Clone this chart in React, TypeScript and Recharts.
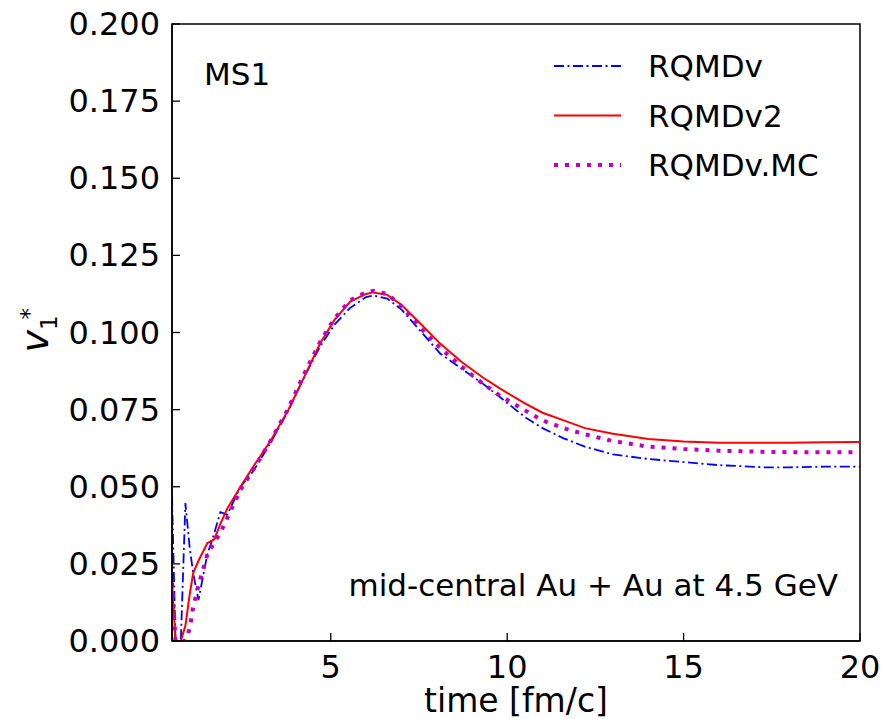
import React from "react";
import {
  LineChart,
  Line,
  XAxis,
  YAxis,
  Legend,
  ReferenceArea,
} from "recharts";

// time grid [fm/c]
const times = [
  0.5, 0.6, 0.75, 0.88, 1.0, 1.1, 1.25, 1.5, 1.7, 1.87, 2.07, 2.44, 2.8, 3.3,
  3.8, 4.2, 4.7, 5.1, 5.55, 6.0, 6.2, 6.6, 7.0, 7.5, 8.1, 8.7, 9.3, 9.8, 10.5,
  11.0, 11.6, 12.2, 13.0, 14.0, 15.0, 16.0, 17.3, 18.0, 19.0, 20.0,
];

const rqmdv = [
  0.047, 0.0, 0.0, 0.0447, 0.0304, 0.022, 0.0133, 0.028, 0.035, 0.0418, 0.041,
  0.05, 0.055, 0.0644, 0.0747, 0.0845, 0.0955, 0.1025, 0.108, 0.1115, 0.112,
  0.111, 0.1075, 0.101, 0.0932, 0.0883, 0.0835, 0.079, 0.0726, 0.069, 0.0657,
  0.063, 0.0605, 0.059, 0.058, 0.057, 0.0563, 0.0563, 0.0565, 0.0565,
];

const rqmdv2 = [
  0.0197, 0.0, 0.0, 0.005, 0.015, 0.022, 0.026, 0.0317, 0.033, 0.038, 0.043,
  0.05, 0.0565, 0.065, 0.075, 0.0845, 0.0965, 0.104, 0.11, 0.1125, 0.113,
  0.1122, 0.109, 0.1033, 0.0964, 0.0905, 0.0855, 0.0818, 0.077, 0.074, 0.0715,
  0.069, 0.0672, 0.0655, 0.0647, 0.0643, 0.0643, 0.0643, 0.0644, 0.0645,
];

const rqmdvMC = [
  0.019, 0.0, 0.0, 0.0, 0.004, 0.011, 0.018, 0.028, 0.032, 0.035, 0.04, 0.049,
  0.0555, 0.065, 0.0755, 0.0855, 0.097, 0.1045, 0.1105, 0.113, 0.1135, 0.1125,
  0.1085, 0.102, 0.095, 0.089, 0.0835, 0.0795, 0.0748, 0.0715, 0.069, 0.067,
  0.0648, 0.063, 0.0622, 0.0617, 0.0613, 0.0612, 0.0612, 0.0612,
];

const xTicks = [5, 10, 15, 20];
const yTicks = [0, 0.025, 0.05, 0.075, 0.1, 0.125, 0.15, 0.175, 0.2];

const series = [
  { key: "a", name: "RQMDv", color: "#0000ff", width: 1.8, dash: "10 3.5 2 3.5" },
  { key: "b", name: "RQMDv2", color: "#ff0000", width: 2, dash: undefined },
  { key: "c", name: "RQMDv.MC", color: "#bf00bf", width: 4, dash: "4 7" },
];

const data = times.map((t, i) => ({
  t,
  a: rqmdv[i],
  b: rqmdv2[i],
  c: rqmdvMC[i],
}));

const FONT = "DejaVu Sans";

const XTick = ({ x, y, payload }: any) => (
  <g>
    <line x1={x} x2={x} y1={y} y2={y - 8} stroke="#000" strokeWidth={1.3} />
    <text x={x} y={y + 37} textAnchor="middle" fontSize={32} fill="#000">
      {payload.value}
    </text>
  </g>
);

const YTick = ({ x, y, payload }: any) => (
  <g>
    <line x1={x} x2={x + 8} y1={y} y2={y} stroke="#000" strokeWidth={1.3} />
    <text x={x - 12} y={y + 11} textAnchor="end" fontSize={32} fill="#000">
      {Number(payload.value).toFixed(3)}
    </text>
  </g>
);

const YLabel = ({ viewBox }: any) => {
  const cx = (viewBox?.x ?? 0) + 48;
  const cy = (viewBox?.y ?? 24) + (viewBox?.height ?? 617) / 2 + 20;
  return (
    <text transform={`translate(${cx},${cy}) rotate(-90)`} fill="#000">
      <tspan fontStyle="italic" fontSize={38}>v</tspan>
      <tspan fontSize={23} dy={9}>1</tspan>
      <tspan fontSize={23} x={33} dy={-20}>*</tspan>
    </text>
  );
};

// legend drawn in the original order of the series
const LegendBox = () => (
  <svg width={320} height={145}>
    {series.map((s, i) => {
      const ly = 26 + i * 49.5;
      return (
        <g key={s.key}>
          <line
            x1={14}
            x2={81}
            y1={ly}
            y2={ly}
            stroke={s.color}
            strokeWidth={s.width}
            strokeDasharray={s.dash}
          />
          <text x={108} y={ly + 11} fontSize={31} fill="#000" fontFamily={FONT}>
            {s.name}
          </text>
        </g>
      );
    })}
  </svg>
);

export default function App() {
  return (
    <div style={{ position: "relative", width: 883, height: 719, fontFamily: FONT }}>
      <style>{"body{margin:0;background:#fff}"}</style>
      <LineChart
        width={883}
        height={719}
        data={data}
        margin={{ top: 24, right: 23, bottom: 0, left: 0 }}
      >
        <XAxis
          dataKey="t"
          type="number"
          domain={[0.5, 20]}
          allowDataOverflow
          ticks={xTicks}
          tick={<XTick />}
          tickSize={0}
          tickMargin={0}
          tickLine={false}
          axisLine={{ stroke: "#000", strokeWidth: 1.5 }}
          height={78}
          interval={0}
          label={{
            value: "time [fm/c]",
            position: "insideBottom",
            offset: 7,
            fontSize: 33,
            fill: "#000",
          }}
        />
        <YAxis
          type="number"
          domain={[0, 0.2]}
          allowDataOverflow
          ticks={yTicks}
          tick={<YTick />}
          tickSize={0}
          tickMargin={0}
          tickLine={false}
          axisLine={{ stroke: "#000", strokeWidth: 1.5 }}
          width={172}
          interval={0}
          label={<YLabel />}
        />
        {series.map((s) => (
          <Line
            key={s.key}
            dataKey={s.key}
            name={s.name}
            type="linear"
            stroke={s.color}
            strokeWidth={s.width}
            strokeDasharray={s.dash}
            dot={false}
            activeDot={false}
            isAnimationActive={false}
          />
        ))}
        <ReferenceArea
          x1={0.5}
          x2={20}
          y1={0}
          y2={0.2}
          fill="none"
          fillOpacity={0}
          stroke="#000"
          strokeWidth={1.5}
        />
        <Legend
          layout="vertical"
          align="center"
          verticalAlign="middle"
          content={<LegendBox />}
          wrapperStyle={{ position: "absolute", left: 540, top: 40, width: 320 }}
        />
      </LineChart>
      <svg
        width={883}
        height={719}
        style={{ position: "absolute", left: 0, top: 0, pointerEvents: "none" }}
      >
        <text x={204} y={85} fontSize={31} fill="#000" fontFamily={FONT}>
          MS1
        </text>
        <text x={838} y={596} fontSize={31} fill="#000" textAnchor="end" fontFamily={FONT}>
          mid-central Au + Au at 4.5 GeV
        </text>
      </svg>
    </div>
  );
}
